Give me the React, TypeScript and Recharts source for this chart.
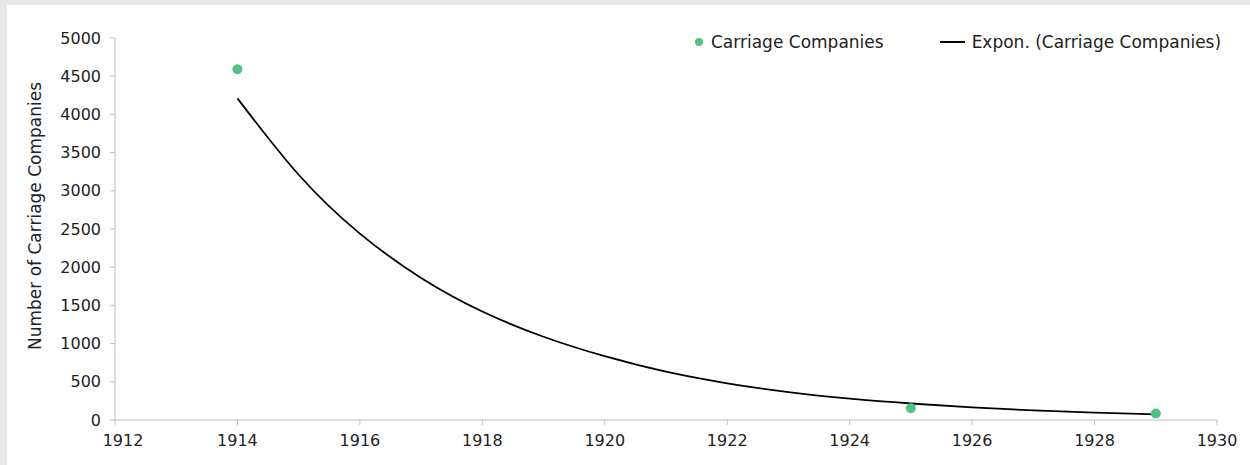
import {
  ComposedChart,
  Line,
  Scatter,
  XAxis,
  YAxis,
} from "recharts";

const years = [1914, 1915, 1916, 1917, 1918, 1919, 1920, 1921, 1922, 1923, 1924, 1925, 1926, 1927, 1928, 1929];
// exponential trendline
const trendValues = [4210, 3210, 2440, 1860, 1420, 1090, 835, 632, 480, 364, 279, 216, 165, 125, 97, 74];

const obsYears = [1914, 1925, 1929];
const obsCounts = [4590, 153, 85];

const xTicks = [1912, 1914, 1916, 1918, 1920, 1922, 1924, 1926, 1928, 1930];
const yTicks = [0, 500, 1000, 1500, 2000, 2500, 3000, 3500, 4000, 4500, 5000];

const FONT = "'DejaVu Sans', sans-serif";
const GREEN = "#52c184";
const AXIS = "#bfbfbf";
const TEXT = "#222";

const trendData = years.map((year, i) => ({ year, trend: trendValues[i] }));
const obsData = obsYears.map((year, i) => ({ year, count: obsCounts[i] }));

function XTick(props: any) {
  const { x, y, payload, index } = props;
  // Excel nudges the first label inward
  const shift = index === 0 ? 8 : 0;
  return (
    <text x={x + shift} y={y} dy="0.71em" textAnchor="middle" fill={TEXT} fontSize={16} fontFamily={FONT}>
      {payload.value}
    </text>
  );
}

function YTitle(props: any) {
  const { viewBox } = props;
  const cx = viewBox.x + 8;
  const cy = viewBox.y + viewBox.height / 2 - 13;
  return (
    <text
      x={cx}
      y={cy}
      transform={`rotate(-90, ${cx}, ${cy})`}
      textAnchor="middle"
      dominantBaseline="central"
      fill={TEXT}
      fontSize={17}
      fontFamily={FONT}
    >
      Number of Carriage Companies
    </text>
  );
}

export default function App() {
  return (
    <div style={{ position: "absolute", left: 0, top: 0, width: 1250, height: 465, background: "#e6e7e9" }}>
      <div style={{ position: "absolute", left: 7, top: 5, width: 1243, height: 460, background: "#fff" }}>
        <ComposedChart
          width={1243}
          height={460}
          data={trendData}
          margin={{ top: 33, right: 33, bottom: 5, left: 20 }}
        >
          <XAxis
            dataKey="year"
            type="number"
            domain={[1912, 1930]}
            ticks={xTicks}
            height={40}
            stroke={AXIS}
            tickSize={5}
            tickMargin={10}
            tick={<XTick />}
          />
          <YAxis
            type="number"
            domain={[0, 5000]}
            ticks={yTicks}
            width={88}
            stroke={AXIS}
            tickSize={5}
            tickMargin={9}
            tick={{ fill: TEXT, fontSize: 16, fontFamily: FONT }}
            label={<YTitle />}
          />
          <Line
            dataKey="trend"
            type="natural"
            stroke="#000"
            strokeWidth={1.8}
            dot={false}
            isAnimationActive={false}
          />
          <Scatter
            data={obsData}
            dataKey="count"
            fill={GREEN}
            shape={(p: any) => <circle cx={p.cx} cy={p.cy} r={5} fill={GREEN} />}
            isAnimationActive={false}
          />
        </ComposedChart>
        <div
          style={{
            position: "absolute",
            top: 27,
            left: 688,
            display: "flex",
            alignItems: "center",
            fontFamily: FONT,
            fontSize: 17,
            color: TEXT,
            whiteSpace: "nowrap",
          }}
        >
          <span style={{ display: "inline-block", width: 8, height: 8, borderRadius: 4, background: GREEN, marginRight: 8 }} />
          <span>Carriage Companies</span>
          <span style={{ display: "inline-block", width: 25, height: 2, background: "#000", marginLeft: 56, marginRight: 7 }} />
          <span>Expon. (Carriage Companies)</span>
        </div>
      </div>
    </div>
  );
}
